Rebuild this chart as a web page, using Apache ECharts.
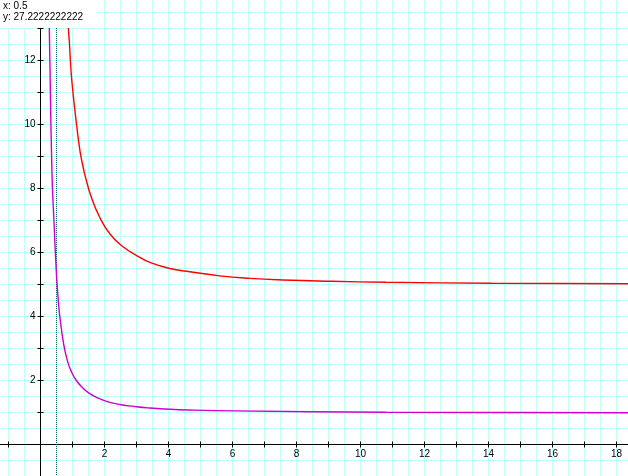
<!DOCTYPE html>
<html>
<head>
<meta charset="utf-8">
<script src="https://cdn.jsdelivr.net/npm/echarts@6/dist/echarts.min.js"></script>
<style>
html,body{margin:0;padding:0;background:#fff;}
#chart{width:628px;height:476px;}
</style>
</head>
<body>
<div id="chart"></div>
<script>
// ---- data ----
const redX = [0.83, 0.87, 0.90, 0.96, 1.02, 1.12, 1.23, 1.30, 1.39, 1.59, 1.85, 2.17, 2.58, 3.10, 3.42, 4.04, 4.67, 5.60, 6.54, 7.58, 9.09, 10.8, 14.1, 18.8];
const redY = [14.6, 13.05, 12.6, 11.6, 10.95, 10.05, 9.2, 8.82, 8.42, 7.72, 7.1, 6.58, 6.18, 5.85, 5.69, 5.5, 5.4, 5.27, 5.19, 5.14, 5.1, 5.07, 5.04, 5.02];
const purpleX = [0.26, 0.275, 0.30, 0.32, 0.345, 0.37, 0.42, 0.45, 0.48, 0.50, 0.55, 0.60, 0.68, 0.75, 0.86, 0.97, 1.12, 1.33, 1.54, 1.75, 2.06, 2.48, 3.0, 3.42, 3.89, 4.61, 6.09, 10.8, 18.8];
const purpleY = [14.6, 13.05, 11.6, 10.3, 9.1, 8.1, 7.0, 6.3, 5.7, 5.3, 4.58, 4.03, 3.42, 3.0, 2.55, 2.27, 2.0, 1.76, 1.59, 1.47, 1.35, 1.25, 1.18, 1.14, 1.11, 1.08, 1.05, 1.01, 0.99];
const cursorX = 0.5;
const readoutLines = ['x: 0.5', 'y: 27.2222222222'];
const xRange = [-2, 19];
const yRange = [-2, 14];
const labelStep = 2;

// ---- chart ----
const chart = echarts.init(document.getElementById('chart'), null, {renderer: 'canvas'});
const zip = (xs, ys) => xs.map((x, i) => [x, ys[i]]);
const labelFmt = v => (Math.abs(v % labelStep) < 1e-9 && v !== 0) ? String(v) : '';
const font = {fontFamily: 'Liberation Sans', fontSize: 10, color: '#000'};
const PX = 32, X0 = 40.5, Y0 = 444.5;

function gridAxis(range, dimIdx, pos) {
  return {
    type: 'value', min: range[0], max: range[1], interval: 0.5, position: pos,
    axisLine: {show: false, onZero: true, onZeroAxisIndex: dimIdx},
    axisTick: {show: false}, axisLabel: {show: false},
    splitLine: {show: true, lineStyle: {color: '#c0ffff', width: 1}}
  };
}
function lineAxis(range, dimIdx, pos, inside) {
  return {
    type: 'value', min: range[0], max: range[1], interval: 1, position: pos,
    axisLine: {show: !inside, onZero: true, onZeroAxisIndex: dimIdx, lineStyle: {color: '#000', width: 1}},
    axisTick: {show: true, inside: inside, length: 3, lineStyle: {color: '#000', width: 1}},
    axisLabel: {show: false}, splitLine: {show: false}
  };
}
function labelAxis(range, pos, offset) {
  return {
    type: 'value', min: range[0], max: range[1], interval: 1, position: pos, offset: offset,
    axisLine: {show: false, onZero: false}, axisTick: {show: false}, splitLine: {show: false},
    axisLabel: Object.assign({show: true, margin: 5, formatter: labelFmt, showMinLabel: false, showMaxLabel: false}, font)
  };
}

const gridLeft = X0 + PX * xRange[0];
const gridTop = Y0 - PX * yRange[1];
const option = {
  animation: false,
  backgroundColor: '#ffffff',
  grid: {left: gridLeft, top: gridTop,
         width: PX * (xRange[1] - xRange[0]), height: PX * (yRange[1] - yRange[0]),
         containLabel: false, outerBoundsMode: 'none'},
  xAxis: [gridAxis(xRange, 0, 'bottom'), lineAxis(xRange, 1, 'bottom', false), lineAxis(xRange, 2, 'bottom', true),
          labelAxis(xRange, 'bottom', -(PX * (0 - yRange[0])))],
  yAxis: [gridAxis(yRange, 0, 'left'), lineAxis(yRange, 1, 'left', false), lineAxis(yRange, 2, 'left', true),
          labelAxis(yRange, 'left', -(PX * (0 - xRange[0])))],
  series: [
    {type: 'line', xAxisIndex: 0, yAxisIndex: 0, data: [[cursorX, yRange[0]], [cursorX, yRange[1]]],
     symbol: 'none', lineStyle: {color: '#006666', width: 1, type: [1, 1], dashOffset: 0.5}, z: 3},
    {type: 'line', xAxisIndex: 0, yAxisIndex: 0, data: zip(redX, redY), symbol: 'none',
     smooth: 0.5, lineStyle: {color: '#ff0000', width: 1.4}, z: 4},
    {type: 'line', xAxisIndex: 0, yAxisIndex: 0, data: zip(purpleX, purpleY), symbol: 'none',
     smooth: 0.5, lineStyle: {color: '#cc00cc', width: 1.4}, z: 4}
  ],
  graphic: [
    {type: 'rect', left: 0, top: 0, shape: {width: 96, height: 28}, style: {fill: '#ffffff'}, z: 100},
    {type: 'text', left: 3, top: 1, z: 101, style: {text: readoutLines[0], font: '10px "Liberation Sans"', fill: '#000'}},
    {type: 'text', left: 3, top: 12, z: 101, style: {text: readoutLines[1], font: '10px "Liberation Sans"', fill: '#000'}}
  ]
};
chart.setOption(option);
</script>
</body>
</html>
